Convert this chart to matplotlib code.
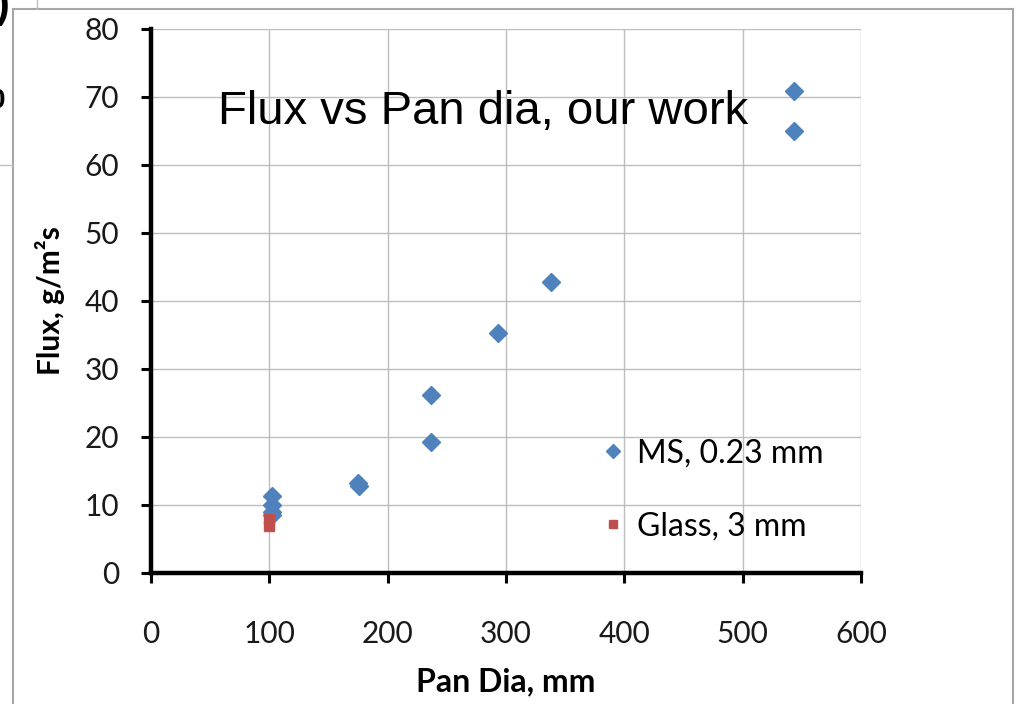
import matplotlib
matplotlib.use("Agg")
import matplotlib.pyplot as plt
from matplotlib.lines import Line2D

# flux measured for mild-steel pans of different diameter
ms_dia = [543, 543, 338, 293, 237, 237, 175, 176, 102, 102, 102, 102]
ms_flux = [70.9, 65.0, 42.8, 35.3, 26.2, 19.3, 13.2, 12.8, 11.3, 10.0, 9.0, 8.6]

# glass pans
glass_dia = [100, 100]
glass_flux = [8.0, 6.9]

x_ticks = [0, 100, 200, 300, 400, 500, 600]
y_ticks = [0, 10, 20, 30, 40, 50, 60, 70, 80]

W, H = 1019, 704
fig = plt.figure(figsize=(W / 100, H / 100), dpi=100)
fig.patch.set_facecolor("white")


def fx(x):
    return x / W


def fy(y):
    return 1 - y / H


ax = fig.add_axes([fx(151), fy(573), fx(861) - fx(151), fy(29) - fy(573)])

blue = "#4F81BD"
red = "#C0504D"

ax.plot(ms_dia, ms_flux, ls="none", marker="D", ms=9, color=blue,
        mec=blue, label="MS, 0.23 mm", zorder=3)
ax.plot(glass_dia, glass_flux, ls="none", marker="s", ms=7.5, color=red,
        mec=red, label="Glass, 3 mm", zorder=3)

ax.set_xlim(0, 600)
ax.set_ylim(0, 80)
ax.set_xticks(x_ticks)
ax.set_yticks(y_ticks)
ax.grid(True, color="#BDBDBD", lw=1.0)
ax.set_axisbelow(True)

for side in ["top", "right"]:
    ax.spines[side].set_visible(False)
for side in ["left", "bottom"]:
    ax.spines[side].set_linewidth(3.2)
    ax.spines[side].set_color("black")

tick_font = "Lato"
ax.tick_params(axis="both", direction="out", length=7, width=2.2,
               color="black", labelsize=21.5, labelcolor="#1a1a1a")
ax.tick_params(axis="y", pad=16)
ax.tick_params(axis="x", pad=27)
for lab in ax.get_xticklabels() + ax.get_yticklabels():
    lab.set_fontfamily(tick_font)

ax.set_xlabel("Pan Dia, mm", fontsize=23, fontweight="bold",
              fontfamily=tick_font, labelpad=14)
ax.set_ylabel("Flux, g/m²s", fontsize=21.5, fontweight="bold",
              fontfamily=tick_font, labelpad=14)

ax.text(0.094, 0.847, "Flux vs Pan dia, our work", transform=ax.transAxes,
        fontsize=34, fontfamily="Liberation Sans", va="center", ha="left")

leg = ax.legend(loc="upper left", bbox_to_anchor=(0.597, 0.3), frameon=False,
                prop={"family": tick_font, "size": 23}, handlelength=0.6,
                handletextpad=0.45, labelspacing=1.35, markerscale=0.75)

# surrounding panel frame
frame_kw = dict(color="#A6A6A6", lw=1.5, transform=fig.transFigure)
fig.add_artist(Line2D([fx(13), fx(13)], [fy(9), fy(704)], **frame_kw))
fig.add_artist(Line2D([fx(13), fx(1013)], [fy(9), fy(9)], **frame_kw))
fig.add_artist(Line2D([fx(1013), fx(1013)], [fy(9), fy(704)], **frame_kw))
fig.add_artist(Line2D([fx(0), fx(13)], [fy(165), fy(165)],
                      color="#BDBDBD", lw=1.0, transform=fig.transFigure))
fig.add_artist(Line2D([fx(37), fx(37)], [fy(0), fy(9)],
                      color="#BDBDBD", lw=1.0, transform=fig.transFigure))

# cut-off pieces of the neighbouring panel
fig.text(fx(-10), fy(101), "0", fontsize=20, fontweight="bold",
         fontfamily="Liberation Sans", va="center", ha="left")
fig.text(fx(-4), fy(-14), ")", fontsize=30, fontweight="bold",
         fontfamily="Liberation Sans", va="top", ha="left")

fig.savefig("out.png", dpi=100)
